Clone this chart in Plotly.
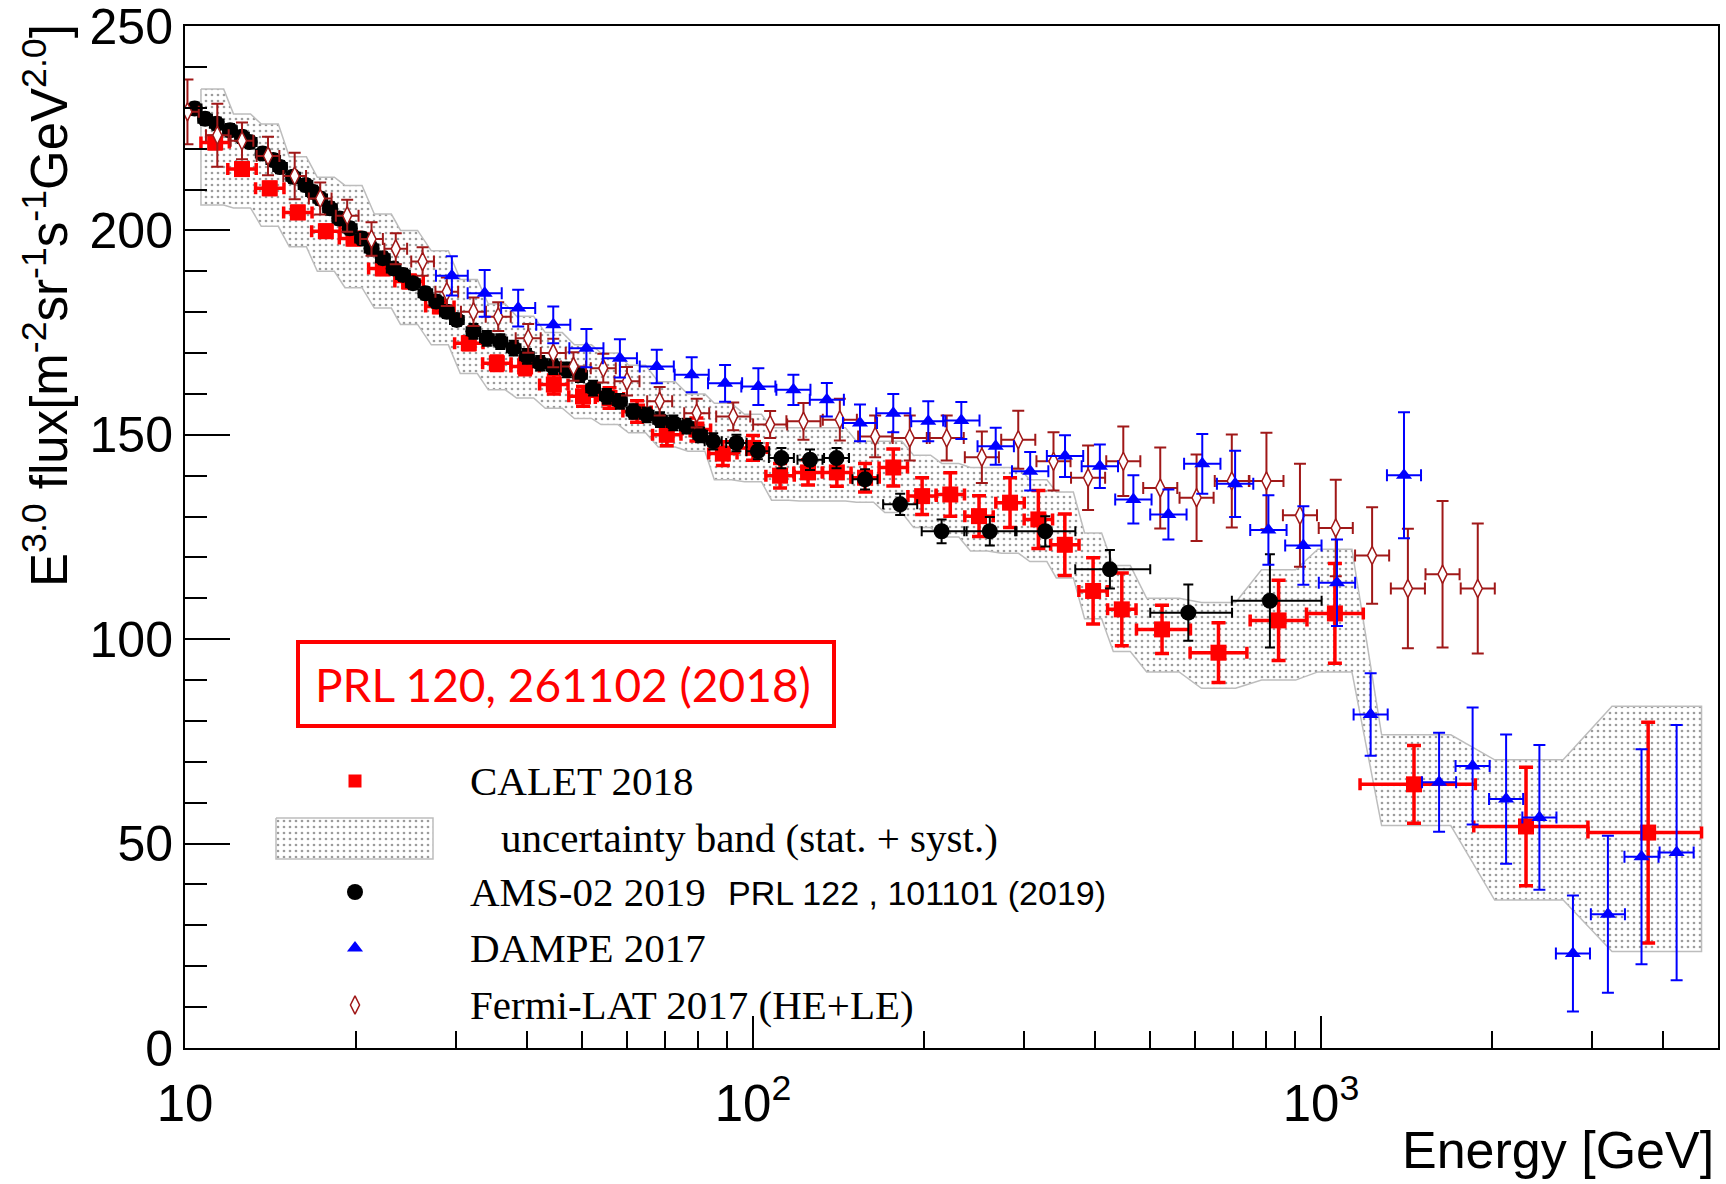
import numpy as np
import plotly.graph_objects as go

# ---------------- data ----------------
calet_E = [11.3, 12.6, 14.1, 15.8, 17.7, 19.8, 22.3, 24.8, 28.1, 31.6, 35.4, 39.7, 44.6, 50.2,
           55.9, 62.5, 70.5, 79.5, 88.5, 100.0, 111.6, 125.0, 140.5, 157.5, 176.6, 198.5, 222.5,
           250.0, 283.5, 318.0, 354.0, 397.0, 446.0, 525.0, 660.0, 842.0, 1058.0, 1458.0, 2296.0, 3767.0]
calet_flux = [221.5, 215.0, 210.3, 204.4, 199.8, 198.0, 190.7, 187.5, 181.4, 172.4, 167.5, 166.7,
              162.3, 159.4, 159.0, 155.7, 150.0, 151.3, 145.4, 146.8, 140.0, 140.8, 140.8, 139.5,
              142.0, 135.0, 135.4, 130.1, 133.4, 129.3, 123.1, 111.8, 107.3, 102.4, 96.7, 104.6,
              106.3, 64.5, 54.2, 52.7]
calet_err = [1.5, 1.5, 1.5, 1.5, 1.5, 1.5, 1.5, 1.5, 1.5, 1.6, 1.8, 2.0, 2.3, 2.4, 2.5, 2.6, 2.7,
             2.8, 2.9, 3.0, 3.0, 3.1, 3.4, 3.5, 4.5, 4.5, 5.3, 5.0, 6.1, 7.1, 7.5, 8.1, 8.9, 5.9,
             7.3, 9.8, 12.2, 9.5, 14.5, 27.0]
calet_dlog_lo = [0.025, 0.025, 0.025, 0.025, 0.025, 0.025, 0.025, 0.025, 0.025, 0.025, 0.025,
                 0.025, 0.025, 0.025, 0.025, 0.025, 0.025, 0.025, 0.025, 0.025, 0.025, 0.025,
                 0.025, 0.025, 0.025, 0.025, 0.025, 0.025, 0.025, 0.025, 0.025, 0.025, 0.025,
                 0.045, 0.05, 0.05, 0.05, 0.095, 0.092, 0.106]
calet_dlog_hi = [0.025, 0.025, 0.025, 0.025, 0.025, 0.025, 0.025, 0.025, 0.025, 0.025, 0.025,
                 0.025, 0.025, 0.025, 0.025, 0.025, 0.025, 0.025, 0.025, 0.025, 0.025, 0.025,
                 0.025, 0.025, 0.025, 0.025, 0.025, 0.025, 0.025, 0.025, 0.025, 0.025, 0.025,
                 0.05, 0.05, 0.05, 0.05, 0.108, 0.109, 0.094]
band_hi = [234.6, 228.5, 226.0, 218.0, 213.0, 211.0, 204.0, 200.0, 195.0, 188.0, 182.0, 179.0,
           175.0, 172.0, 170.0, 167.0, 163.0, 160.0, 157.7, 155.0, 151.7, 151.7, 151.7, 148.4,
           148.4, 145.0, 143.0, 142.0, 142.0, 139.0, 136.0, 126.0, 118.0, 110.0, 109.0, 117.0,
           122.0, 76.6, 70.5, 83.6]
band_lo = [206.2, 205.5, 201.0, 196.0, 190.0, 186.0, 181.0, 177.0, 172.0, 165.0, 161.0, 159.0,
           156.5, 154.0, 152.5, 150.5, 147.0, 146.0, 139.0, 138.5, 134.0, 133.8, 133.8, 133.5,
           131.0, 127.3, 125.0, 121.6, 121.0, 119.0, 115.0, 105.0, 97.0, 92.0, 88.0, 90.0, 92.0,
           54.4, 36.2, 23.6]

ams_E = [10.4, 10.85, 11.37, 12.0, 12.6, 13.0, 13.7, 14.3, 14.7, 15.5, 16.3, 16.8, 17.3, 18.0,
         18.7, 19.5, 20.5, 21.3, 22.3, 23.3, 24.2, 25.2, 26.5, 27.7, 28.9, 30.1, 32.2, 34.0, 35.9,
         37.9, 40.0, 42.2, 44.5, 47.0, 49.6, 52.3, 55.3, 58.3, 61.6, 65.0, 68.6, 72.4, 76.4, 80.7,
         85.1, 93.5, 102.0, 112.2, 126.0, 140.3, 157.5, 181.6, 214.8, 261.2, 327.0, 425.0, 584.0, 813.0]
ams_flux = [229.8, 227.3, 226.1, 224.5, 222.9, 221.6, 218.8, 217.2, 215.5, 213.1, 211.1, 209.4,
            207.8, 205.4, 202.9, 200.5, 198.0, 195.6, 193.2, 190.7, 189.1, 187.1, 184.6, 182.6,
            180.1, 178.1, 175.3, 173.6, 172.8, 171.2, 169.2, 167.5, 166.7, 165.9, 164.7, 161.4,
            159.4, 158.2, 155.7, 154.9, 153.7, 152.9, 152.1, 150.0, 148.4, 148.0, 146.0, 144.3,
            143.9, 144.3, 139.1, 133.0, 126.4, 126.4, 126.4, 117.1, 106.5, 109.4]
ams_err = [1.5, 1.5, 1.5, 1.5, 1.5, 1.5, 1.5, 1.5, 1.5, 1.5, 1.5, 1.5, 1.5, 1.5, 1.5, 1.5, 1.5,
           1.5, 1.5, 1.5, 1.5, 1.5, 1.5, 1.5, 1.5, 1.5, 1.8, 1.8, 1.8, 1.8, 1.8, 1.8, 1.8, 1.8,
           1.8, 1.8, 1.8, 1.8, 1.8, 1.8, 1.8, 1.8, 1.8, 1.8, 2.0, 2.0, 2.0, 2.5, 2.5, 2.5, 2.5,
           2.6, 2.9, 3.5, 3.7, 4.7, 6.9, 11.4]
ams_dlog_lo = [0.012, 0.012, 0.012, 0.012, 0.012, 0.012, 0.012, 0.012, 0.012, 0.012, 0.012, 0.012,
               0.012, 0.012, 0.012, 0.012, 0.012, 0.012, 0.012, 0.012, 0.012, 0.012, 0.012, 0.012,
               0.012, 0.012, 0.012, 0.012, 0.012, 0.012, 0.012, 0.012, 0.012, 0.012, 0.012, 0.012,
               0.012, 0.012, 0.012, 0.012, 0.012, 0.012, 0.012, 0.012, 0.015, 0.018, 0.02, 0.022,
               0.022, 0.022, 0.022, 0.03, 0.035, 0.045, 0.053, 0.061, 0.067, 0.067]
ams_dlog_hi = [0.012, 0.012, 0.012, 0.012, 0.012, 0.012, 0.012, 0.012, 0.012, 0.012, 0.012, 0.012,
               0.012, 0.012, 0.012, 0.012, 0.012, 0.012, 0.012, 0.012, 0.012, 0.012, 0.012, 0.012,
               0.012, 0.012, 0.012, 0.012, 0.012, 0.012, 0.012, 0.012, 0.012, 0.012, 0.012, 0.012,
               0.012, 0.012, 0.012, 0.012, 0.012, 0.012, 0.012, 0.012, 0.015, 0.018, 0.02, 0.022,
               0.022, 0.022, 0.022, 0.03, 0.044, 0.047, 0.053, 0.071, 0.077, 0.091]

dampe_E = [29.5, 33.7, 38.6, 44.5, 50.9, 58.3, 67.7, 78.0, 89.3, 102.2, 117.8, 134.9, 154.3,
           176.6, 203.5, 232.7, 267.5, 307.6, 354.3, 408.0, 467.4, 538.7, 618.0, 706.0, 808.0,
           931.0, 1067.0, 1223.0, 1400.0, 1614.0, 1849.0, 2118.0, 2424.0, 2777.0, 3200.0, 3667.0, 4228.0]
dampe_flux = [188.9, 184.6, 181.0, 176.9, 171.2, 168.7, 166.7, 164.7, 162.6, 161.8, 161.0, 158.6,
              152.9, 155.3, 153.3, 153.5, 147.2, 141.1, 144.8, 142.3, 134.2, 130.5, 142.9, 138.0,
              126.7, 122.9, 113.8, 81.6, 140.1, 65.0, 69.0, 60.9, 56.4, 23.1, 32.7, 46.8, 47.8]
dampe_err = [4.8, 5.7, 4.5, 4.5, 4.7, 4.7, 4.1, 4.3, 4.5, 4.5, 3.7, 4.1, 4.5, 4.7, 4.9, 4.5, 4.5,
             4.7, 5.1, 5.3, 5.9, 6.1, 7.3, 8.1, 8.5, 9.6, 10.6, 10.1, 15.4, 12.1, 14.3, 15.8, 17.7,
             14.2, 19.2, 26.3, 31.2]
dampe_dlog = [0.028, 0.03, 0.03, 0.03, 0.03, 0.03, 0.03, 0.03, 0.03, 0.03, 0.03, 0.03, 0.03, 0.03,
              0.03, 0.032, 0.032, 0.032, 0.032, 0.032, 0.032, 0.032, 0.032, 0.032, 0.032, 0.032,
              0.032, 0.03, 0.03, 0.03, 0.03, 0.03, 0.03, 0.03, 0.03, 0.03, 0.03]

fermi_E = [10.1, 11.4, 12.6, 14.0, 15.6, 17.3, 19.3, 21.3, 23.5, 26.2, 28.9, 32.2, 35.6, 40.2,
           44.5, 48.3, 54.5, 60.0, 68.5, 79.6, 92.3, 107.2, 122.7, 142.2, 164.1, 188.8, 219.3,
           252.9, 293.1, 338.1, 389.0, 448.7, 521.2, 603.9, 696.6, 801.6, 918.3, 1061.7, 1230.3,
           1422.3, 1636.8, 1888.0]
fermi_flux = [229.0, 223.3, 221.9, 218.2, 213.3, 207.8, 203.6, 197.9, 195.5, 192.4, 185.0, 180.1,
              178.9, 173.6, 170.0, 166.7, 166.3, 163.1, 158.2, 155.3, 154.5, 152.5, 153.3, 153.7,
              149.6, 149.2, 149.2, 144.5, 148.8, 143.5, 139.5, 143.5, 137.0, 134.6, 138.7, 138.7,
              130.3, 127.2, 120.5, 112.4, 115.9, 112.4]
fermi_err = [7.9, 7.7, 4.5, 4.7, 5.7, 3.9, 3.9, 4.1, 3.8, 3.5, 3.5, 3.5, 3.5, 3.5, 3.5, 3.5, 3.5,
             3.5, 3.5, 3.5, 3.4, 3.3, 4.5, 5.1, 5.1, 5.5, 5.5, 6.3, 7.1, 7.1, 7.9, 8.5, 9.9, 10.6,
             11.4, 11.8, 12.6, 11.8, 11.8, 14.6, 17.9, 15.9]
fermi_dlog = [0.02, 0.02, 0.02, 0.02, 0.02, 0.02, 0.02, 0.02, 0.02, 0.02, 0.02, 0.022, 0.022,
              0.022, 0.022, 0.022, 0.022, 0.022, 0.022, 0.022, 0.03, 0.03, 0.03, 0.03, 0.03, 0.03,
              0.03, 0.03, 0.03, 0.03, 0.03, 0.03, 0.03, 0.03, 0.03, 0.03, 0.03, 0.03, 0.03, 0.03,
              0.03, 0.03]

x_tick_vals = [10, 100, 1000]
x_tick_text = ["10", "10<sup>2</sup>", "10<sup>3</sup>"]
x_minor_vals = [20, 30, 40, 50, 60, 70, 80, 90, 200, 300, 400, 500, 600, 700, 800, 900,
                2000, 3000, 4000, 5000]
y_tick_vals = [0, 50, 100, 150, 200, 250]

legend_labels = ["CALET 2018", "uncertainty band (stat. + syst.)", "AMS-02 2019",
                 "DAMPE 2017", "Fermi-LAT 2017 (HE+LE)"]
ams_ref = "PRL 122 , 101101 (2019)"
calet_ref = "PRL 120, 261102 (2018)"

# ---------------- helpers ----------------
def xerrs(E, dlo, dhi):
    E = np.asarray(E, float)
    plus = E * (10 ** np.asarray(dhi) - 1)
    minus = E * (1 - 10 ** (-np.asarray(dlo)))
    return plus, minus


def band_polygon(E, dlo, dhi, hi, lo, frac=0.6):
    c = np.log10(np.asarray(E, float))
    n = len(c)
    xu, yu, xl, yl = [], [], [], []
    for i in range(n):
        left = c[i] - (dlo[i] if i == 0 else frac * dlo[i])
        right = c[i] + (dhi[i] if i == n - 1 else frac * dhi[i])
        xu += [left, right]
        yu += [hi[i], hi[i]]
        xl += [left, right]
        yl += [lo[i], lo[i]]
    xs = xu + xl[::-1] + [xu[0]]
    ys = yu + yl[::-1] + [yu[0]]
    return list(10 ** np.array(xs)), ys


RED = "#ff0000"
BLUE = "#0000ff"
FERMI = "#a01818"
PATTERN = dict(shape=".", fgcolor="#3a3a3a", bgcolor="#ffffff", size=6, solidity=0.16)

fig = go.Figure()

# uncertainty band
bx, by = band_polygon(calet_E, calet_dlog_lo, calet_dlog_hi, band_hi, band_lo)
fig.add_trace(go.Scatter(x=bx, y=by, mode="lines", fill="toself", fillpattern=PATTERN,
                         line=dict(color="#bdbdbd", width=1.5), hoverinfo="skip",
                         showlegend=False))

# CALET
cp, cm = xerrs(calet_E, calet_dlog_lo, calet_dlog_hi)
fig.add_trace(go.Scatter(
    x=calet_E, y=calet_flux, mode="markers", showlegend=False,
    marker=dict(symbol="square", size=16, color=RED),
    error_y=dict(type="data", array=calet_err, color=RED, thickness=3.5, width=7),
    error_x=dict(type="data", array=cp, arrayminus=cm, color=RED, thickness=3.5, width=6)))

# AMS-02
ap, am = xerrs(ams_E, ams_dlog_lo, ams_dlog_hi)
fig.add_trace(go.Scatter(
    x=ams_E, y=ams_flux, mode="markers", showlegend=False,
    marker=dict(symbol="circle", size=16, color="black"),
    error_y=dict(type="data", array=ams_err, color="black", thickness=2, width=5),
    error_x=dict(type="data", array=ap, arrayminus=am, color="black", thickness=2, width=5)))

# Fermi-LAT
fp, fm = xerrs(fermi_E, fermi_dlog, fermi_dlog)
fig.add_trace(go.Scatter(
    x=fermi_E, y=fermi_flux, mode="markers", showlegend=False,
    marker=dict(symbol="diamond-tall", size=13, color="white", line=dict(color=FERMI, width=1.5)),
    error_y=dict(type="data", array=fermi_err, color=FERMI, thickness=2, width=6),
    error_x=dict(type="data", array=fp, arrayminus=fm, color=FERMI, thickness=2, width=6)))

# DAMPE
dp, dm = xerrs(dampe_E, dampe_dlog, dampe_dlog)
fig.add_trace(go.Scatter(
    x=dampe_E, y=dampe_flux, mode="markers", showlegend=False,
    marker=dict(symbol="triangle-up", size=14, color=BLUE),
    error_y=dict(type="data", array=dampe_err, color=BLUE, thickness=2, width=6),
    error_x=dict(type="data", array=dp, arrayminus=dm, color=BLUE, thickness=2, width=6)))

# ---------------- hand-drawn legend (pixel-like overlay axes) ----------------
LX_SYM = 355
LX_TXT = 468
legend_y = [781, 838, 892, 948, 1005]

fig.add_trace(go.Scatter(x=[276, 433, 433, 276, 276], y=[818, 818, 859, 859, 818],
                         xaxis="x2", yaxis="y2", mode="lines", fill="toself",
                         fillpattern=PATTERN, line=dict(color="#bdbdbd", width=1.5),
                         hoverinfo="skip", showlegend=False))
fig.add_trace(go.Scatter(x=[LX_SYM], y=[legend_y[0]], xaxis="x2", yaxis="y2", mode="markers",
                         marker=dict(symbol="square", size=13, color=RED),
                         hoverinfo="skip", showlegend=False))
fig.add_trace(go.Scatter(x=[LX_SYM], y=[legend_y[2]], xaxis="x2", yaxis="y2", mode="markers",
                         marker=dict(symbol="circle", size=16, color="black"),
                         hoverinfo="skip", showlegend=False))
fig.add_trace(go.Scatter(x=[LX_SYM], y=[legend_y[3]], xaxis="x2", yaxis="y2", mode="markers",
                         marker=dict(symbol="triangle-up", size=14, color=BLUE),
                         hoverinfo="skip", showlegend=False))
fig.add_trace(go.Scatter(x=[LX_SYM], y=[legend_y[4]], xaxis="x2", yaxis="y2", mode="markers",
                         marker=dict(symbol="diamond-tall", size=13, color="white",
                                     line=dict(color=FERMI, width=1.5)),
                         hoverinfo="skip", showlegend=False))

annotations = []
SERIF = "Liberation Serif"
SANS = "Liberation Sans"
for i, lab in enumerate(legend_labels):
    xx = LX_TXT + (31 if i == 1 else 0)
    annotations.append(dict(x=xx, y=legend_y[i], xref="x2", yref="y2", text=lab,
                            showarrow=False, xanchor="left", yanchor="middle",
                            font=dict(family=SERIF, size=41, color="black")))
annotations.append(dict(x=726, y=legend_y[2] + 1, xref="x2", yref="y2", text=ams_ref,
                        showarrow=False, xanchor="left", yanchor="middle",
                        font=dict(family=SANS, size=34, color="black")))
annotations.append(dict(x=563, y=684, xref="x2", yref="y2", text=calet_ref,
                        showarrow=False, xanchor="center", yanchor="middle",
                        font=dict(family="Lato", size=46, color=RED)))

# axis titles
annotations.append(dict(
    x=(46 - 185) / 1533, y=(1048 - 306) / 1022, xref="paper", yref="paper",
    text="E<sup>3.0</sup> flux[m<sup>-2</sup>sr<sup>-1</sup>s<sup>-1</sup>GeV<sup>2.0</sup>]",
    textangle=-90, showarrow=False, xanchor="center", yanchor="middle",
    font=dict(family=SANS, size=51, color="black")))
annotations.append(dict(
    x=(1716 - 185) / 1533, y=(1048 - 1150) / 1022, xref="paper", yref="paper",
    text="Energy [GeV]", showarrow=False, xanchor="right", yanchor="middle",
    font=dict(family=SANS, size=52, color="black")))

shapes = [dict(type="rect", xref="x2", yref="y2", x0=298, x1=834, y0=642, y1=726,
               line=dict(color=RED, width=4), fillcolor="rgba(0,0,0,0)")]

fig.update_layout(
    width=1726, height=1184,
    margin=dict(l=185, r=8, t=26, b=136, autoexpand=False),
    paper_bgcolor="white", plot_bgcolor="white",
    showlegend=False,
    annotations=annotations, shapes=shapes,
    xaxis=dict(type="log", range=[1, np.log10(5000)], showgrid=False, zeroline=False,
               showline=True, linecolor="black", linewidth=2, mirror=True, automargin=False,
               ticks="inside", ticklen=32, tickwidth=2, tickcolor="black",
               tickvals=x_tick_vals, ticktext=x_tick_text, ticklabelstandoff=10,
               ticklabeloverflow="allow",
               tickfont=dict(family=SANS, size=51, color="black"),
               minor=dict(tickvals=x_minor_vals, ticks="inside", ticklen=17, tickwidth=2,
                          tickcolor="black")),
    yaxis=dict(range=[0, 250], showgrid=False, zeroline=False,
               showline=True, linecolor="black", linewidth=2, mirror=True, automargin=False,
               ticks="inside", ticklen=45, tickwidth=2, tickcolor="black",
               tickvals=y_tick_vals, ticklabelstandoff=0, ticklabeloverflow="allow",
               tickfont=dict(family=SANS, size=50, color="black"),
               minor=dict(dtick=10, ticks="inside", ticklen=22, tickwidth=2, tickcolor="black")),
    xaxis2=dict(overlaying="x", anchor="y2", range=[185, 1718], visible=False,
                showgrid=False, zeroline=False, automargin=False),
    yaxis2=dict(overlaying="y", anchor="x2", range=[1048, 26], visible=False,
                showgrid=False, zeroline=False, automargin=False),
)

fig.write_html("out.html")
